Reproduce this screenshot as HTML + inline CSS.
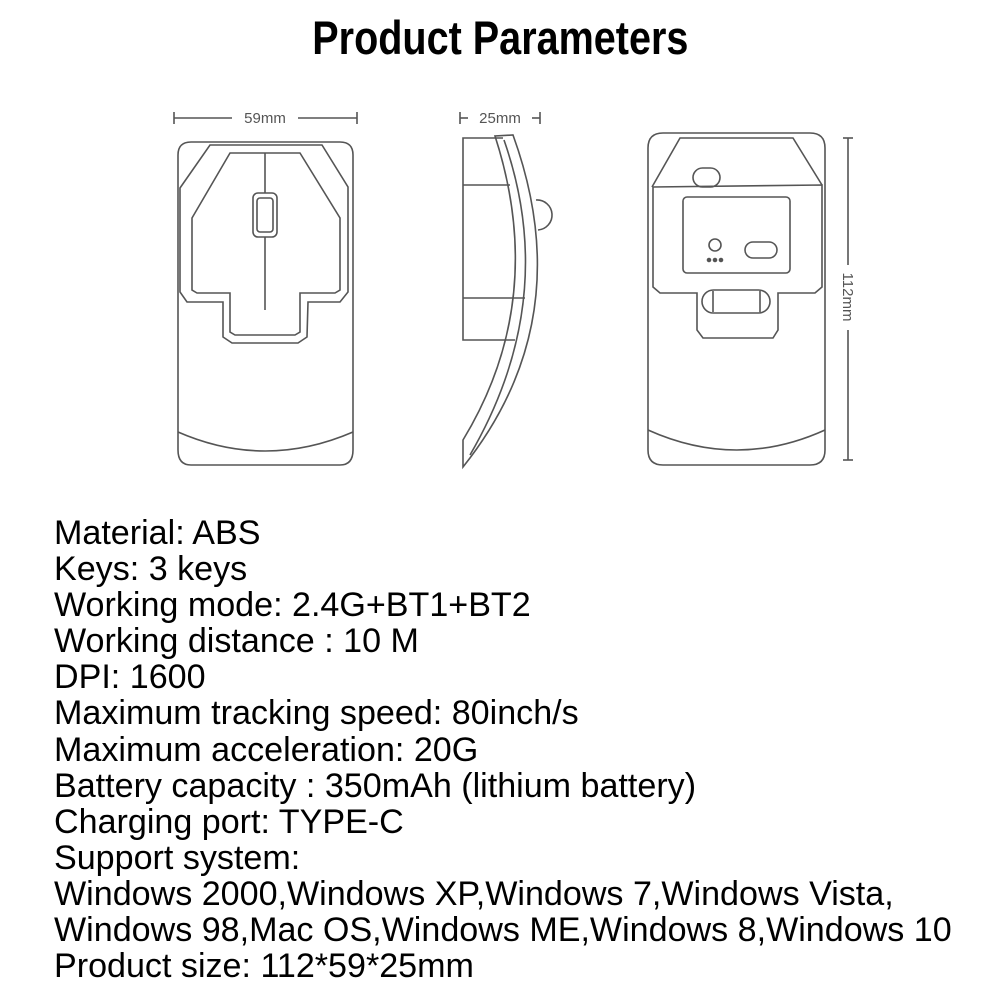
<!DOCTYPE html>
<html><head><meta charset="utf-8"><style>
body{margin:0;width:1000px;height:1000px;background:#fff;position:relative;overflow:hidden;font-family:"Liberation Sans",sans-serif}
#t{position:absolute;top:10px;left:0;width:1000px;text-align:center;font-weight:bold;font-size:47px;color:#000}
#t span{display:inline-block;transform:scaleX(0.842)}
#p{position:absolute;left:54px;top:515px;font-size:34.1px;line-height:36.1px;color:#000;white-space:nowrap}
svg{position:absolute;left:0;top:0}
</style></head><body>
<div id="t"><span>Product Parameters</span></div>
<svg width="1000" height="500" viewBox="0 0 1000 500" fill="none" stroke="#555" stroke-width="1.6" font-family="Liberation Sans, sans-serif">
<line x1="174" y1="118" x2="232" y2="118"/><line x1="298" y1="118" x2="357" y2="118"/>
<line x1="174" y1="112" x2="174" y2="124"/><line x1="357" y1="112" x2="357" y2="124"/>
<text x="265" y="123" font-size="15" fill="#555" stroke="none" text-anchor="middle">59mm</text>
<path d="M178,155 Q178,142 191,142 L340,142 Q353,142 353,155 L353,450 Q353,465 340,465 L191,465 Q178,465 178,450 Z"/>
<path d="M178,432 Q265,470 353,432"/>
<polygon points="180,188 210,145 322,145 348,187 348,292 340,302 308,302 307,337 298,343 232,343 223,337 223,302 187,302 180,292"/>
<polygon points="192,218 230,153 300,153 340,218 340,290 335,293 300,293 300,332 295,335 235,335 230,332 230,293 197,293 192,290"/>
<rect x="253" y="193" width="24" height="44" rx="5"/><rect x="257" y="198" width="16" height="34" rx="3"/>
<line x1="265" y1="153" x2="265" y2="193"/><line x1="265" y1="237" x2="265" y2="310"/>
<line x1="460" y1="112" x2="460" y2="124"/><line x1="460" y1="118" x2="468" y2="118"/>
<line x1="532" y1="118" x2="540" y2="118"/><line x1="540" y1="112" x2="540" y2="124"/>
<text x="500" y="123" font-size="15" fill="#555" stroke="none" text-anchor="middle">25mm</text>
<polyline points="503,138 463,138 463,340 515,340"/>
<line x1="463" y1="185" x2="510" y2="185"/><line x1="463" y1="298" x2="525" y2="298"/>
<path d="M495,136 Q548,300 463,440 L463,467 Q580,320 513,135 Z"/>
<path d="M504,140 Q560,300 470,455"/>
<path d="M536,200 A12,12 0 0 1 538,230"/>
<path d="M648,148 Q648,133 663,133 L810,133 Q825,133 825,148 L825,450 Q825,465 810,465 L663,465 Q648,465 648,450 Z"/>
<path d="M648,430 Q737,470 825,430"/>
<polyline points="652,187 680,138 793,138 822,185"/>
<polygon points="653,187 653,287 660,293 697,293 697,330 703,338 773,338 778,330 778,293 815,293 822,287 822,185"/>
<rect x="693" y="168" width="27" height="19" rx="9.5"/>
<rect x="683" y="197" width="107" height="76" rx="4"/>
<circle cx="715" cy="245" r="6"/>
<circle cx="709" cy="260" r="1.5" fill="#555"/><circle cx="715" cy="260" r="1.5" fill="#555"/><circle cx="721" cy="260" r="1.5" fill="#555"/>
<rect x="745" y="242" width="32" height="16" rx="8"/>
<rect x="702" y="290" width="68" height="23" rx="11.5"/>
<line x1="713" y1="291" x2="713" y2="312"/><line x1="760" y1="291" x2="760" y2="312"/>
<line x1="843" y1="138" x2="853" y2="138"/><line x1="843" y1="460" x2="853" y2="460"/>
<line x1="848" y1="138" x2="848" y2="265"/><line x1="848" y1="330" x2="848" y2="460"/>
<text x="0" y="0" font-size="15" fill="#555" stroke="none" text-anchor="middle" transform="translate(843,297) rotate(90)">112mm</text>
</svg>
<div id="p">Material: ABS<br>Keys: 3 keys<br>Working mode: 2.4G+BT1+BT2<br>Working distance : 10 M<br>DPI: 1600<br>Maximum tracking speed: 80inch/s<br>Maximum acceleration: 20G<br>Battery capacity : 350mAh (lithium battery)<br>Charging port: TYPE-C<br>Support system:<br>Windows 2000,Windows XP,Windows 7,Windows Vista,<br>Windows 98,Mac OS,Windows ME,Windows 8,Windows 10<br>Product size: 112*59*25mm</div>
</body></html>
